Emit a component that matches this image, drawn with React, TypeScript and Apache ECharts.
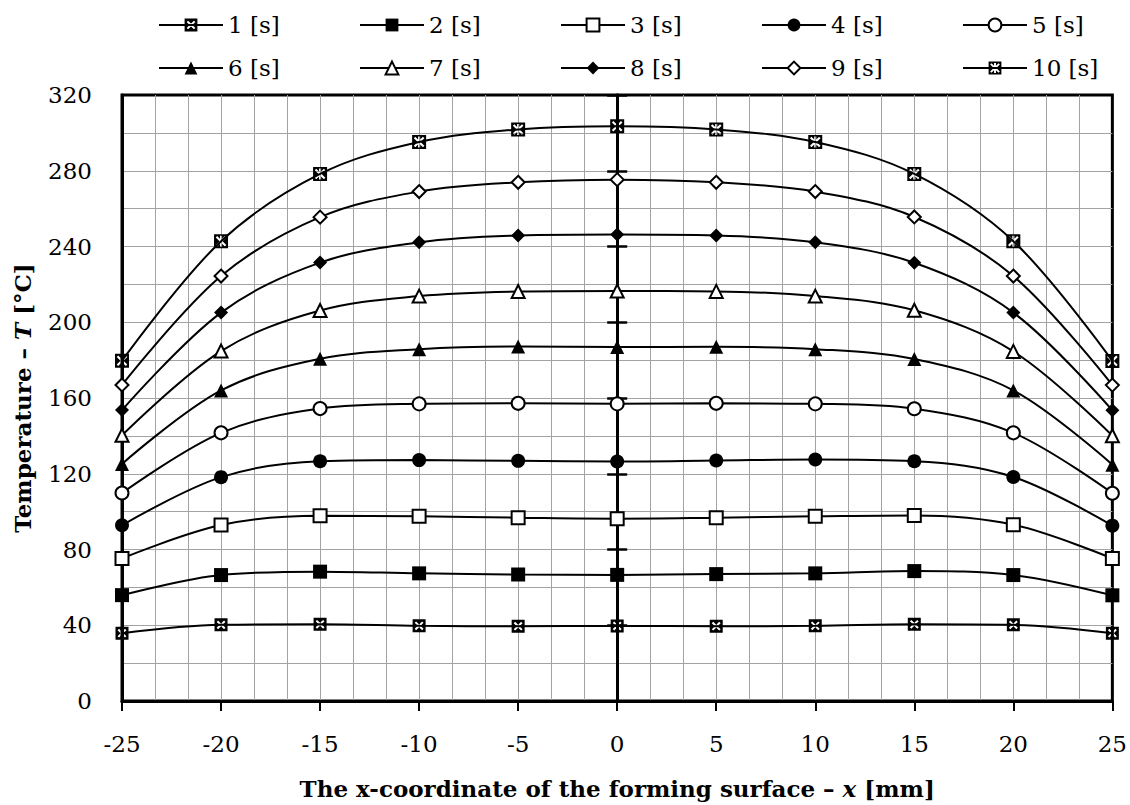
import React, { useEffect, useRef } from "react";
import * as echarts from "echarts";

const X_MM = [-25, -20, -15, -10, -5, 0, 5, 10, 15, 20, 25];

const T1 = [35.8, 40.2, 40.5, 39.7, 39.5, 39.6, 39.5, 39.7, 40.5, 40.2, 35.8];
const T2 = [55.9, 66.5, 68.3, 67.4, 66.8, 66.6, 67.0, 67.4, 68.6, 66.5, 55.8];
const T3 = [75.3, 92.9, 97.8, 97.5, 96.8, 96.3, 96.8, 97.5, 98.0, 93.1, 75.3];
const T4 = [92.8, 118.2, 126.6, 127.2, 126.8, 126.5, 127.0, 127.5, 126.6, 118.3, 92.6];
const T5 = [109.8, 141.6, 154.4, 156.9, 157.2, 156.9, 157.2, 156.9, 154.3, 141.6, 109.7];
const T6 = [125.2, 164.0, 180.7, 185.8, 187.2, 186.9, 187.0, 185.8, 180.6, 164.0, 124.8];
const T7 = [140.3, 184.8, 206.2, 213.8, 216.2, 216.5, 216.3, 213.8, 206.3, 184.6, 140.1];
const T8 = [153.6, 205.1, 231.5, 242.2, 245.8, 246.3, 245.8, 242.2, 231.4, 205.1, 153.5];
const T9 = [166.9, 224.4, 255.5, 269.0, 273.9, 275.3, 273.9, 269.0, 255.6, 224.4, 166.8];
const T10 = [179.7, 242.8, 278.3, 295.2, 301.8, 303.5, 301.8, 295.2, 278.3, 242.8, 179.6];

const SERIES_NAMES = ["1 [s]", "2 [s]", "3 [s]", "4 [s]", "5 [s]", "6 [s]", "7 [s]", "8 [s]", "9 [s]", "10 [s]"];
const SERIES_VALUES = [T1, T2, T3, T4, T5, T6, T7, T8, T9, T10];

const FONT = "'DejaVu Serif', 'Liberation Serif', serif";

type Pt = [number, number];

function holePath(pts: Pt[]): string {
  // outer square clockwise, hole reversed (counter-clockwise)
  const rev = pts.slice().reverse();
  const hole = rev.map((p, i) => `${i === 0 ? "M" : "L"}${p[0].toFixed(2)} ${p[1].toFixed(2)}`).join(" ") + " Z";
  return `path://M0 0 L10 0 L10 10 L0 10 Z ${hole}`;
}

const X_HOLE: Pt[] = [
  [1.6, 2.7], [2.7, 1.6], [5, 3.9], [7.3, 1.6], [8.4, 2.7], [6.1, 5],
  [8.4, 7.3], [7.3, 8.4], [5, 6.1], [2.7, 8.4], [1.6, 7.3], [3.9, 5],
];

function starHole(): Pt[] {
  const arms = [-135, -90, -45, 45, 90, 135];
  const h = 0.75;
  const pts: Pt[] = [];
  const u = (deg: number): Pt => [Math.cos((deg * Math.PI) / 180), Math.sin((deg * Math.PI) / 180)];
  for (let i = 0; i < arms.length; i++) {
    const a = arms[i];
    const R = Math.abs(a) === 90 ? 3.9 : 4.6;
    const d = u(a);
    const l = u(a - 90);
    const r = u(a + 90);
    pts.push([5 + R * d[0] + h * l[0], 5 + R * d[1] + h * l[1]]);
    pts.push([5 + R * d[0] + h * r[0], 5 + R * d[1] + h * r[1]]);
    const next = i === arms.length - 1 ? arms[0] + 360 : arms[i + 1];
    const gap = next - a;
    const mid = u((a + next) / 2);
    const rin = h / Math.sin(((gap / 2) * Math.PI) / 180);
    pts.push([5 + rin * mid[0], 5 + rin * mid[1]]);
  }
  return pts;
}

const SYM_BOX_X = holePath(X_HOLE);
const SYM_BOX_STAR = holePath(starHole());

const FILLED = { color: "#000", borderWidth: 0 };
const OPEN = { color: "#fff", borderColor: "#000", borderWidth: 2 };

const MARKERS = [
  { symbol: SYM_BOX_X, size: 13, style: FILLED },
  { symbol: "rect", size: 14, style: FILLED },
  { symbol: "rect", size: 13, style: OPEN },
  { symbol: "circle", size: 14, style: FILLED },
  { symbol: "circle", size: 13, style: OPEN },
  { symbol: "triangle", size: 14, style: FILLED },
  { symbol: "triangle", size: 13, style: OPEN },
  { symbol: "diamond", size: 14, style: FILLED },
  { symbol: "diamond", size: 13, style: OPEN },
  { symbol: SYM_BOX_STAR, size: 14, style: FILLED },
];

export default function App() {
  const ref = useRef<HTMLDivElement>(null);

  useEffect(() => {
    if (!ref.current) return;
    const chart = echarts.init(ref.current, undefined, { renderer: "svg" });

    const series = SERIES_VALUES.map((vals, k) => ({
      name: SERIES_NAMES[k],
      type: "line",
      xAxisIndex: 0,
      yAxisIndex: 0,
      data: X_MM.map((x, i) => [x, vals[i]]),
      smooth: 0.35,
      symbol: MARKERS[k].symbol,
      symbolSize: MARKERS[k].size,
      itemStyle: MARKERS[k].style,
      lineStyle: { color: "#000", width: 2 },
      z: 3,
    }));

    const gridGray = { color: "#a3a3a3", width: 1 };
    const titleStyle = {
      fontFamily: FONT,
      fontSize: 23,
      fontWeight: "bold",
      color: "#000",
      rich: { i: { fontFamily: FONT, fontSize: 23, fontWeight: "bold", fontStyle: "italic", color: "#000" } },
    };

    chart.setOption({
      animation: false,
      backgroundColor: "#fff",
      textStyle: { fontFamily: FONT, color: "#000" },
      grid: {
        left: 122,
        right: 14,
        top: 95,
        bottom: 102,
        show: true,
        borderColor: "#000",
        borderWidth: 3,
        backgroundColor: "transparent",
      },
      legend: {
        left: 158,
        top: 9,
        width: 1000,
        padding: 0,
        itemWidth: 64,
        itemHeight: 16,
        itemGap: 11,
        textStyle: { fontFamily: FONT, fontSize: 23, color: "#000", width: 120, lineHeight: 32 },
        data: SERIES_NAMES,
      },
      xAxis: {
        type: "value",
        min: -25,
        max: 25,
        interval: 5,
        axisLine: { show: true, onZero: false, lineStyle: { color: "#000", width: 3 } },
        axisTick: { show: true, length: 10, lineStyle: { color: "#000", width: 2 } },
        axisLabel: { fontFamily: FONT, fontSize: 23, color: "#000", margin: 31 },
        splitLine: { show: true, showMinLine: false, showMaxLine: false, lineStyle: gridGray },
        minorTick: { show: false, splitNumber: 3 },
        minorSplitLine: { show: true, lineStyle: gridGray },
        name: "The x-coordinate of the forming surface – {i|x} [mm]",
        nameLocation: "middle",
        nameGap: 76,
        nameTextStyle: titleStyle,
      },
      yAxis: [
        {
          type: "value",
          min: 0,
          max: 320,
          interval: 40,
          position: "left",
          axisLine: { show: true, onZero: false, lineStyle: { color: "#000", width: 3 } },
          axisTick: { show: false },
          axisLabel: { fontFamily: FONT, fontSize: 23, color: "#000", margin: 30 },
          splitLine: { show: true, showMinLine: false, showMaxLine: false, lineStyle: gridGray },
          minorTick: { show: false, splitNumber: 2 },
          minorSplitLine: { show: true, lineStyle: gridGray },
          name: "Temperature – {i|T} [°C]",
          nameLocation: "middle",
          nameGap: 88,
          nameTextStyle: titleStyle,
        },
        {
          type: "value",
          min: 0,
          max: 320,
          interval: 40,
          position: "left",
          axisLine: { show: true, onZero: true, onZeroAxisIndex: 0, lineStyle: { color: "#000", width: 3 } },
          axisTick: { show: true, length: 10, lineStyle: { color: "#000", width: 2.5 } },
          axisLabel: { show: false },
          splitLine: { show: false },
        },
        {
          type: "value",
          min: 0,
          max: 320,
          interval: 40,
          position: "right",
          axisLine: { show: true, onZero: true, onZeroAxisIndex: 0, lineStyle: { color: "#000", width: 3 } },
          axisTick: { show: true, length: 10, lineStyle: { color: "#000", width: 2.5 } },
          axisLabel: { show: false },
          splitLine: { show: false },
        },
      ],
      series,
    });

    return () => chart.dispose();
  }, []);

  return <div ref={ref} style={{ width: 1130, height: 805, position: "absolute", left: 0, top: 0 }} />;
}
